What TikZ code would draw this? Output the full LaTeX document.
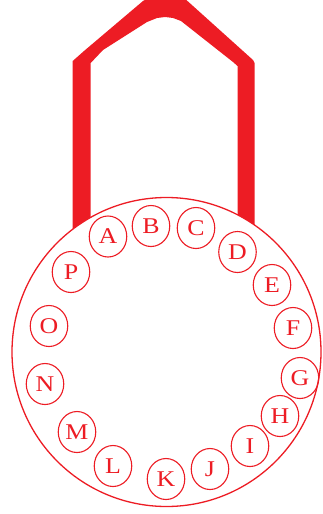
\documentclass[tikz,border=0pt]{standalone}
\usepackage{fontspec}
\setmainfont{Liberation Serif}
\newfontfamily\lockfont[FakeStretch=1.15]{Liberation Serif}
\usetikzlibrary{shapes.geometric}
\definecolor{lockred}{HTML}{ED1C24}
\tikzset{
  letterbox/.style={draw=lockred, line width=1.1pt, ellipse, minimum width=37.5pt, minimum height=41pt, inner sep=0pt, text=lockred, font=\lockfont\fontsize{22.5}{22.5}\selectfont},
  dialbox/.style={draw=lockred, line width=1.3pt, fill=white, circle, minimum size=309pt, inner sep=0pt},
  shackle/.style={fill=lockred}
}
\begin{document}
\begin{tikzpicture}[x=1pt,y=-1pt]
\useasboundingbox (0,0) rectangle (323,514);
\fill[shackle] (72.7,250) -- (72.7,61) -- (84,51) -- (143,1) -- (150,-3) -- (183,-3) -- (253,60) -- (254.5,63) -- (254.5,250)
  -- (237.5,250) -- (237.5,66) -- (233,62) -- (181,21) -- (173,18) -- (165,17) -- (157,18) -- (147,22) -- (103,50) -- (90.7,63) -- (90.7,250) -- cycle;
\node[dialbox] (dial) at (166.5,352) {};
\node[letterbox] (A) at (108,236.5) {A};
\node[letterbox] (B) at (151,226) {B};
\node[letterbox] (C) at (196,228) {C};
\node[letterbox] (D) at (237.5,252) {D};
\node[letterbox] (E) at (272,285) {E};
\node[letterbox] (F) at (293,328) {F};
\node[letterbox] (G) at (300,378) {G};
\node[letterbox] (H) at (280,416) {H};
\node[letterbox] (I) at (250,446) {I};
\node[letterbox] (J) at (210,469) {J};
\node[letterbox] (K) at (166,479) {K};
\node[letterbox] (L) at (113,466) {L};
\node[letterbox] (M) at (77,432) {M};
\node[letterbox] (N) at (45,384) {N};
\node[letterbox] (O) at (49,326) {O};
\node[letterbox] (P) at (71,272) {P};
\end{tikzpicture}
\end{document}
